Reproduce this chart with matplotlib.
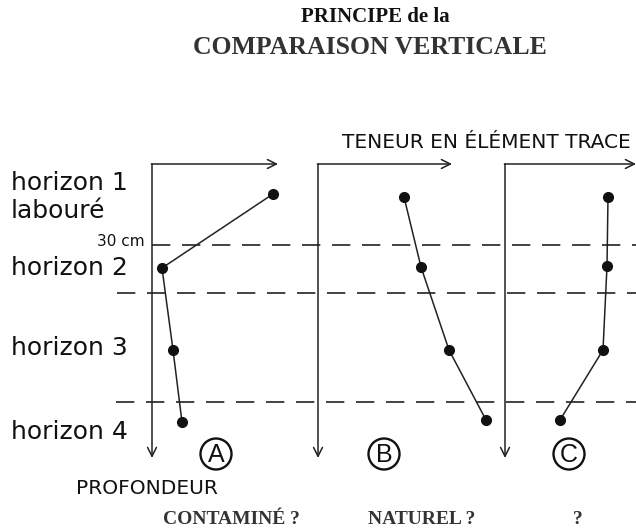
import matplotlib.pyplot as plt
from matplotlib.patches import Circle

# profile data: depth below the top of each axis and trace element content
depth_a = [30, 104, 186, 258]
conc_a = [121, 10, 21, 30]
depth_b = [33, 103, 186, 256]
conc_b = [86, 103, 131, 168]
depth_c = [33, 102, 186, 256]
conc_c = [103, 102, 98, 55]

horizons = ["horizon 1\nlabouré", "horizon 2", "horizon 3", "horizon 4"]
profile_names = ["A", "B", "C"]
verdicts = ["CONTAMINÉ ?", "NATUREL ?", "?"]

sans = "DejaVu Sans"
serif = "Liberation Serif"

fig = plt.figure(figsize=(6.36, 5.28), dpi=100)
ax = fig.add_axes([0, 0, 1, 1])
ax.set_xlim(0, 636)
ax.set_ylim(528, 0)
ax.axis("off")

top = 164
axes_x = [152, 318, 505]
arrow_end = [278, 452, 636]
profiles = [(conc_a, depth_a), (conc_b, depth_b), (conc_c, depth_c)]

# horizon limits
ax.plot([152, 636], [245, 245], color="#222", lw=1.2, dashes=(11, 7))
ax.plot([117, 636], [293, 293], color="#222", lw=1.2, dashes=(11, 7))
ax.plot([116, 636], [402, 402], color="#222", lw=1.2, dashes=(11, 7))

for i, x0 in enumerate(axes_x):
    ax.annotate("", xy=(arrow_end[i], top), xytext=(x0 - 0.6, top),
                arrowprops=dict(arrowstyle="->", lw=1.1, color="#222",
                                mutation_scale=16, shrinkA=0, shrinkB=0))
    ax.annotate("", xy=(x0, 458), xytext=(x0, top),
                arrowprops=dict(arrowstyle="->", lw=1.1, color="#222",
                                mutation_scale=16, shrinkA=0, shrinkB=0))
    conc, depth = profiles[i]
    ax.plot([x0 + c for c in conc], [top + d for d in depth], color="#222",
            lw=1.1, marker="o", markersize=7, markerfacecolor="#111",
            markeredgecolor="#111")

# circled profile letters
for name, cx in zip(profile_names, [216, 384, 569]):
    ax.add_patch(Circle((cx, 454), 15.5, fill=False, lw=1.7, color="#111"))
    ax.text(cx, 455, name, ha="center", va="center", fontsize=18,
            family="Liberation Sans", color="#111")

# horizon labels
ax.text(11, 197, horizons[0], ha="left", va="center", fontsize=18,
        family=sans, color="#111", linespacing=1.2)
for label, y in zip(horizons[1:], [268, 348, 432]):
    ax.text(11, y, label, ha="left", va="center", fontsize=18,
            family=sans, color="#111")
ax.text(145, 242, "30 cm", ha="right", va="center", fontsize=11,
        family=sans, color="#111")

ax.text(631, 142, "TENEUR EN ÉLÉMENT TRACE", ha="right", va="center",
        fontsize=14.5, family=sans, color="#111")
ax.text(76, 488, "PROFONDEUR", ha="left", va="center", fontsize=14.5,
        family=sans, color="#111")

for label, cx in zip(verdicts, [231, 422, 578]):
    ax.text(cx, 519, label, ha="center", va="center", fontsize=14,
            family=serif, weight="bold", color="#333")

ax.text(375, 17, "PRINCIPE de la", ha="center", va="center", fontsize=15,
        family=serif, weight="bold", color="#111")
ax.text(370, 47, "COMPARAISON VERTICALE", ha="center", va="center",
        fontsize=18.5, family=serif, weight="bold", color="#333")

plt.savefig("out.png", dpi=100)
